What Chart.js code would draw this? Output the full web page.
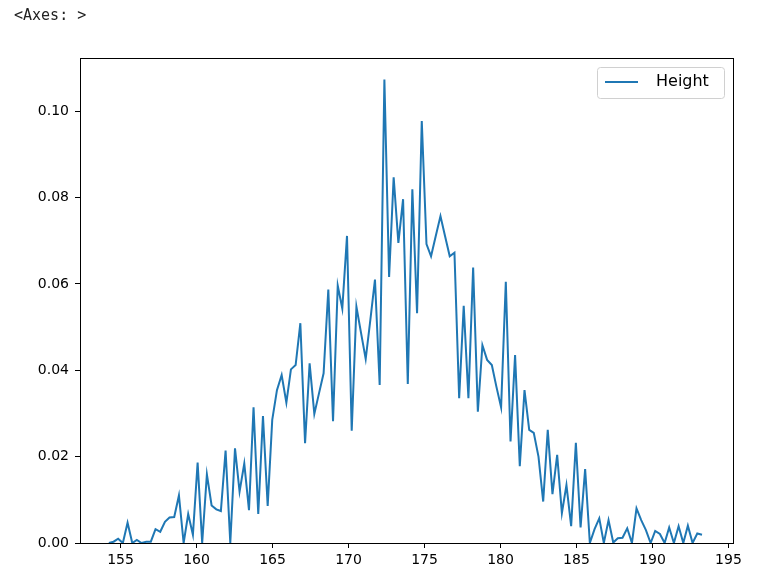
<!DOCTYPE html>
<html>
<head>
<meta charset="utf-8">
<script src="https://cdn.jsdelivr.net/npm/chart.js@4/dist/chart.umd.min.js"></script>
<style>
  html, body { margin: 0; padding: 0; background: #fff; }
  #wrap { position: relative; width: 776px; height: 576px; }
  #label { position: absolute; left: 14px; top: 8px; font: 15px "DejaVu Sans Mono", monospace; color: #222; line-height: 1; }
  canvas { position: absolute; left: 0; top: 0; }
</style>
</head>
<body>
<div id="wrap">
  <canvas id="chart" width="776" height="576"></canvas>
  <div id="label">&lt;Axes: &gt;</div>
</div>
<script>
const seriesLabel = "Height";

const heights = [
  154.23, 154.54, 154.84, 155.15, 155.46, 155.77, 156.07, 156.38, 156.69, 156.99,
  157.30, 157.61, 157.92, 158.22, 158.53, 158.84, 159.15, 159.45, 159.76, 160.07,
  160.37, 160.68, 160.99, 161.30, 161.60, 161.91, 162.22, 162.53, 162.83, 163.14,
  163.45, 163.75, 164.06, 164.37, 164.68, 164.98, 165.29, 165.60, 165.91, 166.21,
  166.52, 166.83, 167.14, 167.44, 167.75, 168.06, 168.36, 168.67, 168.98, 169.29,
  169.59, 169.90, 170.21, 170.52, 170.82, 171.13, 171.44, 171.74, 172.05, 172.36,
  172.67, 172.97, 173.28, 173.59, 173.90, 174.20, 174.51, 174.82, 175.13, 175.43,
  175.74, 176.05, 176.35, 176.66, 176.97, 177.28, 177.58, 177.89, 178.20, 178.51,
  178.81, 179.12, 179.43, 179.73, 180.04, 180.35, 180.66, 180.96, 181.27, 181.58,
  181.89, 182.19, 182.50, 182.81, 183.11, 183.42, 183.73, 184.04, 184.34, 184.65,
  184.96, 185.27, 185.57, 185.88, 186.19, 186.50, 186.80, 187.11, 187.42, 187.72,
  188.03, 188.34, 188.65, 188.95, 189.26, 189.57, 189.88, 190.18, 190.49, 190.80,
  191.10, 191.41, 191.72, 192.03, 192.33, 192.64, 192.95, 193.26
];

const density = [
  0.0000, 0.0003, 0.0010, 0.0000, 0.0047, 0.0000, 0.0007, 0.0000, 0.0003, 0.0003,
  0.0032, 0.0026, 0.0049, 0.0059, 0.0060, 0.0110, 0.0000, 0.0067, 0.0019, 0.0186,
  0.0000, 0.0159, 0.0087, 0.0078, 0.0074, 0.0214, 0.0000, 0.0219, 0.0119, 0.0184,
  0.0076, 0.0314, 0.0067, 0.0294, 0.0086, 0.0285, 0.0354, 0.0389, 0.0325, 0.0402,
  0.0412, 0.0509, 0.0231, 0.0416, 0.0299, 0.0347, 0.0393, 0.0587, 0.0282, 0.0596,
  0.0543, 0.0711, 0.0260, 0.0547, 0.0487, 0.0426, 0.0518, 0.0610, 0.0366, 0.1073,
  0.0616, 0.0847, 0.0695, 0.0796, 0.0368, 0.0819, 0.0532, 0.0977, 0.0692, 0.0664,
  0.0711, 0.0757, 0.0711, 0.0664, 0.0672, 0.0335, 0.0549, 0.0335, 0.0638, 0.0304,
  0.0458, 0.0424, 0.0412, 0.0362, 0.0314, 0.0605, 0.0235, 0.0435, 0.0178, 0.0354,
  0.0262, 0.0255, 0.0200, 0.0096, 0.0262, 0.0113, 0.0204, 0.0069, 0.0134, 0.0039,
  0.0232, 0.0036, 0.0171, 0.0000, 0.0032, 0.0057, 0.0000, 0.0053, 0.0001, 0.0011,
  0.0012, 0.0034, 0.0000, 0.0080, 0.0053, 0.0030, 0.0000, 0.0028, 0.0021, 0.0000,
  0.0036, 0.0000, 0.0039, 0.0000, 0.0040, 0.0000, 0.0022, 0.0019
];

const xTicks = [155, 160, 165, 170, 175, 180, 185, 190, 195];
const yTicks = [0, 0.02, 0.04, 0.06, 0.08, 0.10];

const lineColor = "#1f77b4";
const tickFont = { family: "DejaVu Sans", size: 14 };

// axes frame on all four sides plus a matplotlib-like legend box
const framePlugin = {
  id: "frame",
  afterDraw(chart) {
    const { ctx, chartArea: a } = chart;
    ctx.save();
    ctx.strokeStyle = "#000";
    ctx.lineWidth = 1;
    ctx.strokeRect(Math.round(a.left) + 0.5, Math.round(a.top) + 0.5, Math.round(a.right - a.left), Math.round(a.bottom - a.top));

    const bx = 597.5, by = 67.5, bw = 127, bh = 31, r = 3;
    ctx.beginPath();
    ctx.moveTo(bx + r, by);
    ctx.arcTo(bx + bw, by, bx + bw, by + bh, r);
    ctx.arcTo(bx + bw, by + bh, bx, by + bh, r);
    ctx.arcTo(bx, by + bh, bx, by, r);
    ctx.arcTo(bx, by, bx + bw, by, r);
    ctx.closePath();
    ctx.fillStyle = "rgba(255,255,255,0.8)";
    ctx.fill();
    ctx.strokeStyle = "#d0d0d0";
    ctx.stroke();

    ctx.beginPath();
    ctx.moveTo(605, 82);
    ctx.lineTo(638, 82);
    ctx.strokeStyle = lineColor;
    ctx.lineWidth = 2;
    ctx.stroke();

    ctx.fillStyle = "#000";
    ctx.font = "16px 'DejaVu Sans'";
    ctx.textBaseline = "middle";
    ctx.fillText(chart.data.datasets[0].label, 656, 82);
    ctx.restore();
  }
};

new Chart(document.getElementById("chart"), {
  type: "line",
  data: {
    datasets: [{
      label: seriesLabel,
      data: heights.map((h, i) => ({ x: h, y: density[i] })),
      borderColor: lineColor,
      borderWidth: 2,
      pointRadius: 0,
      tension: 0,
      fill: false
    }]
  },
  options: {
    responsive: false,
    animation: false,
    layout: { padding: { left: 0, right: 43, top: 58, bottom: 0 } },
    plugins: { legend: { display: false }, tooltip: { enabled: false } },
    scales: {
      x: {
        type: "linear",
        min: 152.33,
        max: 195.30,
        afterBuildTicks: (s) => { s.ticks = xTicks.map((v) => ({ value: v })); },
        afterFit: (s) => { s.height = 33; },
        grid: { drawOnChartArea: false, tickLength: 5, tickColor: "#000", tickWidth: 1 },
        border: { color: "#000", width: 1 },
        ticks: { font: tickFont, color: "#000", padding: 4, maxRotation: 0, autoSkip: false }
      },
      y: {
        type: "linear",
        min: 0,
        max: 0.1123,
        afterBuildTicks: (s) => { s.ticks = yTicks.map((v) => ({ value: v })); },
        afterFit: (s) => { s.width = 80; },
        grid: { drawOnChartArea: false, tickLength: 5, tickColor: "#000", tickWidth: 1 },
        border: { color: "#000", width: 1 },
        ticks: { font: tickFont, color: "#000", padding: 6, callback: (v) => Number(v).toFixed(2) }
      }
    }
  },
  plugins: [framePlugin]
});
</script>
</body>
</html>
